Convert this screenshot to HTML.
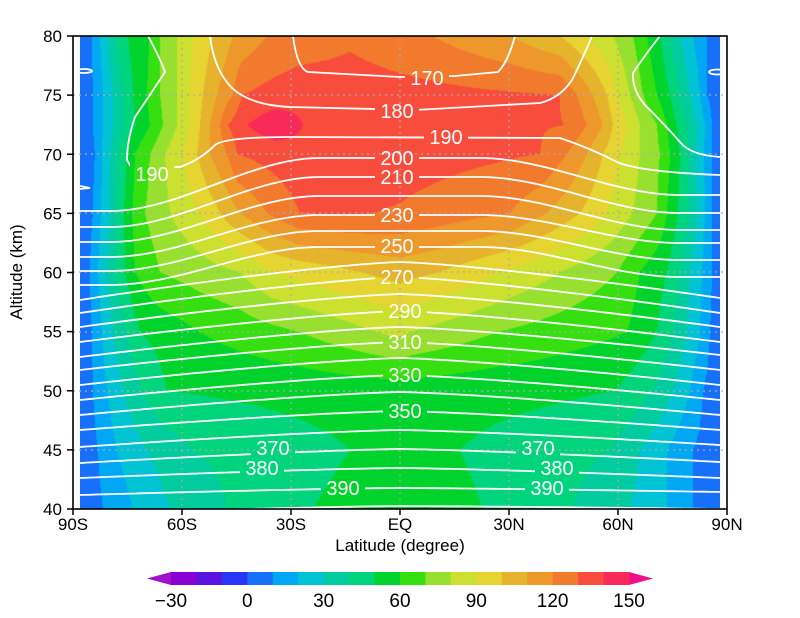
<!DOCTYPE html>
<html><head><meta charset="utf-8">
<style>
html,body{margin:0;padding:0;background:#fff;}
#wrap{position:relative;width:800px;height:618px;overflow:hidden;font-family:"Liberation Sans","DejaVu Sans",sans-serif;}
canvas{position:absolute;left:80px;top:36px;}
svg{position:absolute;left:0;top:0;}
</style></head><body>
<div id="wrap">
<canvas id="c" width="640" height="473"></canvas>
<svg id="s" width="800" height="618" viewBox="0 0 800 618">
<defs>
<mask id="m" maskUnits="userSpaceOnUse" x="0" y="0" width="800" height="618">
<rect x="0" y="0" width="800" height="618" fill="#fff"/>
<g fill="#000" id="maskg"></g>
</mask>
<clipPath id="cp"><rect x="80" y="36" width="640" height="473"/></clipPath>
</defs>
<g id="grid" stroke="#aaa" stroke-width="1.2" stroke-dasharray="2,4"></g>
<g id="lines" fill="none" stroke="#fff" stroke-width="1.8" mask="url(#m)" clip-path="url(#cp)">
<path d="M293,36 Q297,68 308,72 L400,77 L455,76 L498,72 Q508,62 515,36"/>
<path d="M210,36 Q214,70 232,88 Q250,105 290,107 L415,110 L540,103 Q560,98 572,80 Q582,60 592,36"/>
<path d="M148,36 Q160,58 165,72 Q150,95 135,117 Q127,140 127,160 L131,167 L180,167 Q200,160 215,145 Q225,137 290,137 L560,138 Q590,148 617,162 Q640,172 720,175"/>
<path d="M660,36 Q645,55 633,73 Q632,90 645,105 Q665,125 680,142 Q690,155 720,157"/>
<ellipse cx="84" cy="71" rx="8" ry="2"/>
<ellipse cx="717" cy="72" rx="8" ry="2.5"/>
<path d="M80,186 L90,188 L80,189"/>
</g>
<g id="labs" fill="#fff" font-size="20" text-anchor="middle" dominant-baseline="central"></g>
<rect x="73" y="36" width="654" height="473" fill="none" stroke="#000" stroke-width="1.6"/>
<g id="ax" font-size="17" fill="#000"></g>
<text x="400" y="551" font-size="17" text-anchor="middle">Latitude (degree)</text>
<text transform="translate(22,272) rotate(-90)" font-size="17" text-anchor="middle">Altitude (km)</text>
<g id="cb"></g>
</svg>
</div>
<script>
var cols=["#8a00d4","#5a14e0","#2a36f5","#1670fa","#00a8f4","#00c4d4","#00cca0","#00d47c","#00d42c","#36e010","#98e030","#cce030","#e6d430","#e6b42c","#ee982c","#f27a2c","#f84c3c","#f82a58"];
function hex(h){return [parseInt(h.substr(1,2),16),parseInt(h.substr(3,2),16),parseInt(h.substr(5,2),16)];}
var rows=[
[36,[[80,3],[92,10],[100,20],[108,30],[116,40],[127,50],[150,60],[160,70],[177,80],[193,90],[213,100],[233,110],[267,120],[350,128],[433,120],[510,110],[560,100],[587,90],[613,80],[633,70],[647,60],[660,50],[670,40],[680,30],[693,20],[707,10],[720,3]]],
[95,[[80,3],[93,10],[103,20],[113,30],[123,40],[133,50],[147,60],[160,70],[177,80],[190,90],[203,100],[217,110],[233,120],[242,130],[300,137],[400,134],[560,130],[577,120],[593,110],[607,100],[617,90],[630,80],[643,70],[657,60],[670,50],[680,40],[690,30],[700,20],[707,10],[720,3]]],
[125,[[80,3],[93,10],[103,20],[113,30],[123,40],[135,50],[150,60],[163,70],[177,80],[190,90],[200,100],[210,110],[220,120],[228,130],[247,140],[275,147],[303,140],[400,135],[567,130],[587,120],[603,110],[613,100],[627,90],[640,80],[657,70],[667,60],[677,50],[687,40],[697,30],[705,20],[712,10],[720,3]]],
[154,[[80,3],[95,10],[102,20],[110,30],[118,40],[127,50],[135,60],[150,70],[165,80],[183,90],[197,100],[210,110],[227,120],[237,130],[300,137],[400,135],[540,130],[567,120],[587,110],[603,100],[620,90],[640,80],[660,70],[670,60],[680,50],[688,40],[696,30],[704,20],[712,10],[720,3]]],
[213,[[80,3],[93,10],[101,20],[110,30],[117,40],[124,50],[132,60],[145,70],[170,80],[200,90],[220,100],[240,110],[267,120],[300,130],[350,131],[400,129],[510,120],[547,110],[580,100],[607,90],[633,80],[657,70],[667,60],[678,50],[688,40],[697,30],[705,20],[712,10],[720,3]]],
[272,[[80,3],[90,10],[98,20],[106,30],[115,40],[125,50],[135,60],[160,70],[240,80],[273,90],[360,100],[400,104],[440,100],[500,90],[560,80],[617,70],[640,60],[667,50],[680,40],[690,30],[702,20],[712,10],[720,3]]],
[332,[[80,3],[92,10],[102,20],[113,30],[127,40],[140,50],[200,60],[300,70],[377,80],[400,83],[410,80],[497,70],[627,60],[657,50],[673,40],[687,30],[700,20],[710,10],[720,3]]],
[391,[[80,3],[93,10],[107,20],[123,30],[142,40],[167,50],[300,53],[400,55],[550,52],[615,50],[653,40],[673,30],[690,20],[703,10],[720,3]]],
[450,[[80,3],[98,10],[117,20],[147,30],[193,40],[350,50],[400,54],[460,50],[610,40],[640,30],[667,20],[693,10],[720,3]]],
[509,[[80,3],[103,10],[133,20],[170,30],[227,40],[313,50],[400,56],[483,50],[573,40],[630,30],[667,20],[693,10],[720,3]]]
];
function rowVal(p,x){if(x<=p[0][0])return p[0][1];for(var i=1;i<p.length;i++){if(x<=p[i][0]){var a=p[i-1],b=p[i];return a[1]+(b[1]-a[1])*(x-a[0])/(b[0]-a[0]);}}return p[p.length-1][1];}
var cv=document.getElementById('c'),ctx=cv.getContext('2d');
var img=ctx.createImageData(640,473),d=img.data;
var rgb=cols.map(hex),lo=hex("#a010c8"),hi=hex("#f0108c");
for(var py=0;py<473;py++){var y=py+36.5;var r=0;while(r<rows.length-2&&y>rows[r+1][0])r++;
 var t=(y-rows[r][0])/(rows[r+1][0]-rows[r][0]);t=Math.max(0,Math.min(1,t));
 for(var px=0;px<640;px++){var x=px+80.5;var v=rowVal(rows[r][1],x)*(1-t)+rowVal(rows[r+1][1],x)*t;
  var i=Math.floor((v+30)/10);var c=i<0?lo:(i>17?hi:rgb[i]);var k=(py*640+px)*4;d[k]=c[0];d[k+1]=c[1];d[k+2]=c[2];d[k+3]=255;}}
ctx.putImageData(img,0,0);
var NS="http://www.w3.org/2000/svg";
function el(n,a,p,txt){var e=document.createElementNS(NS,n);for(var k in a)e.setAttribute(k,a[k]);if(txt!==undefined)e.textContent=txt;p.appendChild(e);return e;}
var g=document.getElementById('grid');
[182,291,400,509,618].forEach(function(x){el('line',{x1:x,y1:36,x2:x,y2:509},g);});
[95,154,213,272,332,391,450].forEach(function(y){el('line',{x1:73,y1:y,x2:727,y2:y},g);});
var L=[[200,158,211,195],[210,177,227,213],[220,196,242,230],[230,215,257,243],[240,231,271,260],[250,247,285,277],[260,262,300,298],[270,277,313,313],[280,294,327,327],[290,311,342,342],[300,327,357,355],[310,342,370,370],[320,358,385,385],[330,375,400,400],[340,392,415,415],[350,411,430,430],[360,430,447,445],[370,449,463,462],[380,468,478,478],[390,488,495,492],[400,506,514,509]];
function ss(t){t=Math.max(0,Math.min(1,t));return t*t*(3-2*t);}
var lg=document.getElementById('lines');
L.forEach(function(l){var T=l[0],yc=l[1],yl=l[2],yr=l[3],s="";
 for(var x=80;x<=720;x+=4){var y;
  if(x<400){var w=T<=250?ss((320-x)/210):Math.pow((400-x)/320,1.3);y=yc+(yl-yc)*w;}
  else{var w=T<=250?ss((x-480)/200):Math.pow((x-400)/320,1.3);y=yc+(yr-yc)*w;}
  s+=(x==80?"M":"L")+x+","+y.toFixed(1);}
 el('path',{d:s},lg);});
var labs=[["170",427,78],["180",397,111],["190",152,174],["190",446,137],["200",397,158],["210",397,177],["230",397,215],["250",397,246],["270",397,277],["290",405,311],["310",405,342],["330",405,375],["350",405,411],["370",273,448],["370",538,448],["380",262,468],["380",557,468],["390",343,488],["390",547,488]];
var mg=document.getElementById('maskg'),lb=document.getElementById('labs');
labs.forEach(function(a){el('rect',{x:a[1]-22,y:a[2]-10,width:44,height:20},mg);el('text',{x:a[1],y:a[2]+1},lb,a[0]);});
var ax=document.getElementById('ax');
var ylab=[80,75,70,65,60,55,50,45,40];
ylab.forEach(function(v,i){var y=36+i*59.125;el('line',{x1:67,y1:y,x2:73,y2:y,stroke:"#000","stroke-width":1.5},ax);el('text',{x:62,y:y+6,"text-anchor":"end"},ax,String(v));});
var xl=["90S","60S","30S","EQ","30N","60N","90N"];
xl.forEach(function(v,i){var x=73+i*109;el('line',{x1:x,y1:509,x2:x,y2:515,stroke:"#000","stroke-width":1.5},ax);el('text',{x:x,y:530,"text-anchor":"middle"},ax,v);});
var cb=document.getElementById('cb');
el('polygon',{points:"147,578.5 171,572 171,585",fill:"#a010c8"},cb);
el('polygon',{points:"653,578.5 629,572 629,585",fill:"#f0108c"},cb);
for(var i=0;i<18;i++){var x0=171+i*25.444;el('rect',{x:x0,y:572,width:25.8,height:13,fill:cols[i]},cb);}
["\u221230","0","30","60","90","120","150"].forEach(function(v,i){el('text',{x:171+i*76.33,y:607,"font-size":19,"text-anchor":"middle"},cb,v);});
</script>
</body></html>
